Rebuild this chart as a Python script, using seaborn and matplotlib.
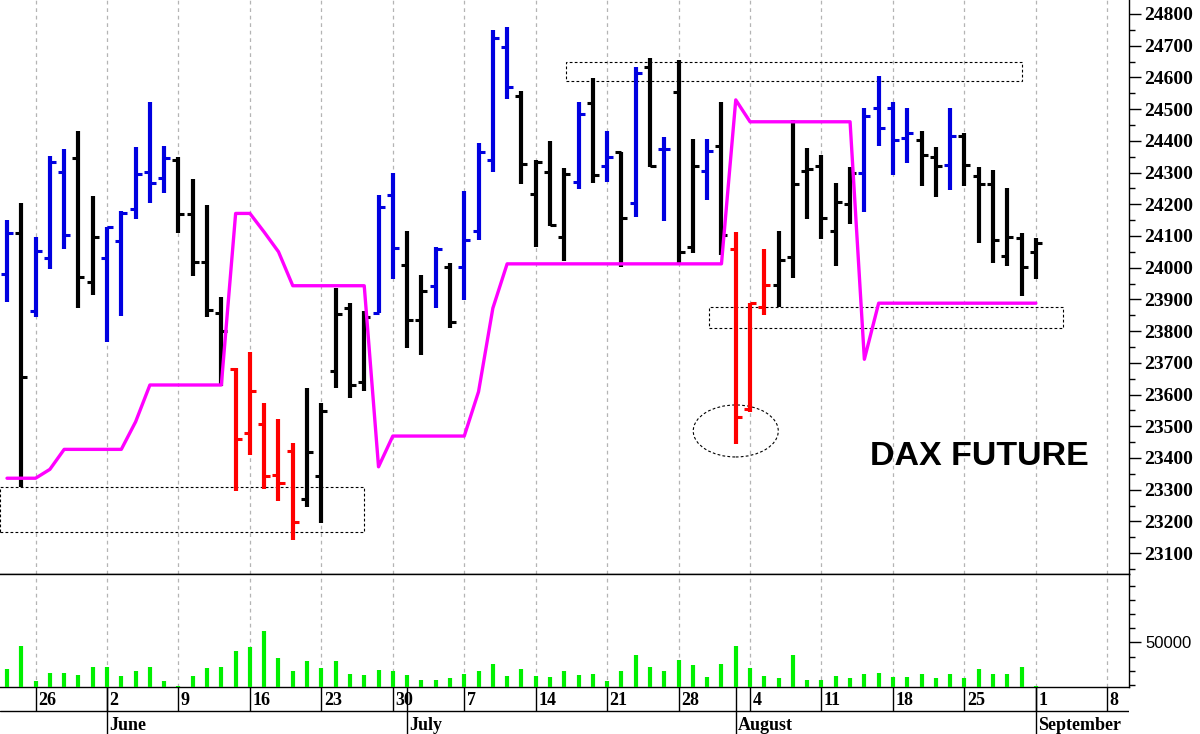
import matplotlib
matplotlib.use('Agg')
import matplotlib.pyplot as plt
from matplotlib.patches import Rectangle, Ellipse
from matplotlib.ticker import MultipleLocator, FixedLocator
import numpy as np
import pandas as pd
import seaborn as sns

# one bar per trading day, first bar is Thursday 22 May 2025
start_day = "2025-05-22"

opens = [23980, 24108, 23864, 24030, 24303, 24345, 23956, 24030, 24085, 24184,
         24303, 24284, 24340, 24169, 24019, 23856, 23680, 23478, 23506, 23346,
         23423, 23270, 23344, 23675, 23874, 23641, 23858, 24229, 24008, 23835,
         23942, 24001, 24001, 24116, 24340, 24695, 24541, 24232, 24303, 24098,
         24269, 24520, 24321, 24366, 24203, 24632, 24373, 24553, 24066, 24306,
         24384, 24059, 23553, 23875, 23945, 24035, 24306, 24322, 24117, 24200,
         24300, 24503, 24503, 24408, 24403, 24348, 24324, 24415, 24289, 24264,
         24037, 24094, 24050]
highs = [24150, 24203, 24096, 24352, 24373, 24432, 24226, 24129, 24180, 24382,
         24523, 24384, 24348, 24279, 24198, 23908, 23683, 23733, 23574, 23522,
         23446, 23619, 23572, 23935, 23888, 23864, 24229, 24298, 24116, 23977,
         24064, 24016, 24243, 24394, 24750, 24758, 24558, 24340, 24400, 24313,
         24523, 24597, 24432, 24366, 24634, 24662, 24413, 24655, 24405, 24405,
         24523, 24112, 23890, 24058, 24117, 24466, 24378, 24355, 24266, 24318,
         24505, 24604, 24523, 24505, 24432, 24380, 24505, 24426, 24318, 24308,
         24252, 24108, 24093]
lows = [23893, 23309, 23845, 23995, 24058, 23872, 23914, 23767, 23848, 24153,
        24203, 24235, 24110, 23974, 23845, 23627, 23297, 23409, 23301, 23264,
        23141, 23246, 23196, 23622, 23588, 23612, 23858, 23963, 23746, 23725,
        23872, 23809, 23898, 24087, 24303, 24531, 24264, 24066, 24132, 24022,
        24247, 24266, 24271, 24001, 24159, 24318, 24148, 24008, 24045, 24213,
        24040, 23444, 23546, 23851, 23875, 23968, 24153, 24090, 24005, 24137,
        24177, 24384, 24292, 24329, 24258, 24222, 24245, 24258, 24079, 24016,
        24005, 23911, 23963]
closes = [24108, 23656, 24054, 24334, 24103, 23970, 24096, 24127, 24173, 24295,
          24266, 24345, 24169, 24019, 23868, 23801, 23459, 23612, 23343, 23320,
          23197, 23418, 23549, 23853, 23630, 23845, 24192, 24063, 23835, 23927,
          24060, 23830, 24087, 24366, 24723, 24569, 24326, 24334, 24135, 24294,
          24484, 24292, 24350, 24158, 24615, 24321, 24375, 24050, 24322, 24369,
          24103, 23530, 23888, 23945, 24024, 24263, 24310, 24158, 24208, 24298,
          24478, 24440, 24403, 24424, 24355, 24321, 24415, 24324, 24264, 24087,
          24098, 24003, 24077]
regime = ["up", "flat", "up", "up", "up", "flat", "flat", "up", "up", "up",
          "up", "up", "flat", "flat", "flat", "flat", "down", "down", "down", "down",
          "down", "flat", "flat", "flat", "flat", "flat", "up", "up", "flat", "flat",
          "up", "flat", "up", "up", "up", "up", "flat", "flat", "flat", "flat",
          "up", "flat", "up", "flat", "up", "flat", "up", "flat", "flat", "up",
          "flat", "down", "down", "down", "flat", "flat", "flat", "flat", "flat", "flat",
          "up", "up", "up", "up", "flat", "flat", "up", "flat", "flat", "flat",
          "flat", "flat", "flat"]
volume = [31100, 47700, 22900, 28700, 28700, 26900, 32500, 32500, 26600, 29900,
          32500, 22900, 19600, 26600, 31800, 32500, 44000, 46800, 58100, 38900,
          29700, 36800, 31800, 36800, 27600, 26900, 30600, 29900, 26900, 23600,
          23600, 24800, 27600, 29900, 34600, 26600, 31100, 26600, 25500, 29700,
          26900, 27600, 22900, 29700, 41000, 32500, 29700, 37900, 33900, 25500,
          34600, 47700, 31800, 26600, 24800, 41000, 23600, 23600, 26600, 24800,
          27600, 28700, 25700, 25700, 27600, 24800, 27600, 24800, 31100, 27600,
          27600, 32500, 19600]
stop_line = [23336, 23336, 23336, 23364, 23427, 23427, 23427, 23427, 23427, 23514,
             23630, 23630, 23630, 23630, 23630, 23630, 24171, 24171, 24112, 24050,
             23943, 23943, 23943, 23943, 23943, 23943, 23372, 23469, 23469, 23469,
             23469, 23469, 23469, 23609, 23872, 24012, 24012, 24012, 24012, 24012,
             24012, 24012, 24012, 24012, 24012, 24012, 24012, 24012, 24012, 24012,
             24012, 24529, 24460, 24460, 24460, 24460, 24460, 24460, 24460, 24460,
             23711, 23888, 23888, 23888, 23888, 23888, 23888, 23888, 23888, 23888,
             23888, 23888, 23888]

# dotted boxes: first bar, last bar, low price, high price
zone_start = [-0.5, 39.1, 49.1]
zone_end = [25.0, 71.0, 73.9]
zone_low = [23167, 24588, 23809]
zone_high = [23309, 24648, 23875]

sns.set_style("white")
plt.rcParams['font.family'] = ['Liberation Serif', 'DejaVu Serif']
plt.rcParams['axes.edgecolor'] = 'black'
plt.rcParams['text.color'] = 'black'
plt.rcParams['ytick.color'] = 'black'

n = len(closes)
idx = np.arange(n)
days = pd.bdate_range(start_day, periods=n + 6)
x_lo, x_hi = -0.49, 78.52

palette = {"up": "#0000e0", "flat": "#000000", "down": "#ff0000"}
colors = [palette[r] for r in regime]

mondays = [i for i, d in enumerate(days) if d.weekday() == 0]
month_starts = [i for i in range(1, len(days)) if days[i].month != days[i - 1].month]

W, H = 1200, 734
fig = plt.figure(figsize=(12, 7.34), dpi=100)
fig.patch.set_facecolor("#fff")
ax = fig.add_axes([0, 160 / H, 1129 / W, 574 / H])
axv = fig.add_axes([0, 47 / H, 1129 / W, 113 / H])
axd = fig.add_axes([0, 0, 1129 / W, 47 / H])

for a in (ax, axv):
    for m in mondays:
        a.axvline(m, color="#b4b4b4", lw=0.9, ls=(0, (3, 3)), zorder=0)
    a.set_xlim(x_lo, x_hi)
    a.set_xticks([])
    a.spines["left"].set_visible(False)
    for s in ("right", "bottom", "top"):
        a.spines[s].set_linewidth(1.0)
        a.spines[s].set_color("black")
ax.spines["top"].set_visible(False)

# price bars
ax.vlines(idx, lows, highs, colors=colors, lw=3.0, zorder=3)
ax.hlines(opens, idx - 0.42, idx, colors=colors, lw=2.2, zorder=3)
ax.hlines(closes, idx, idx + 0.42, colors=colors, lw=2.2, zorder=3)

sns.lineplot(x=idx, y=stop_line, ax=ax, color="#ff00ff", lw=2.4, zorder=4)

for x0, x1, lo, hi in zip(zone_start, zone_end, zone_low, zone_high):
    ax.add_patch(Rectangle((x0, lo), x1 - x0, hi - lo, fill=False,
                           ec="black", lw=0.8, ls=(0, (2.5, 2)), zorder=2))
ax.add_patch(Ellipse((51.0, 23485), 5.95, 164, fill=False,
                     ec="black", lw=0.8, ls=(0, (2.5, 2)), zorder=2))

ax.text(60.4, 23378, "DAX FUTURE", family="Liberation Sans", fontsize=24.5,
        fontweight="bold", ha="left", va="baseline")

ax.set_ylim(23034, 24844)
ax.set_xlim(x_lo, x_hi)
ax.set_xlabel("")
ax.set_ylabel("")
ax.yaxis.tick_right()
ax.set_yticks(np.arange(23100, 24801, 100))
ax.yaxis.set_minor_locator(MultipleLocator(50))
ax.tick_params(axis="y", which="major", right=True, length=8.6, width=1, pad=2.2,
               labelsize=14, direction="out")
ax.tick_params(axis="y", which="minor", right=True, length=4, width=1, direction="out")
for lab in ax.get_yticklabels():
    lab.set_fontweight("bold")

# volume
axv.vlines(idx, 18660, volume, colors="#00f000", lw=3.0, zorder=3)
axv.set_ylim(18660, 98240)
axv.yaxis.tick_right()
axv.set_yticks([50000])
axv.set_yticklabels(["50000"], family="Liberation Sans", fontsize=12)
axv.yaxis.set_minor_locator(FixedLocator(np.arange(20000, 100000, 10000)))
axv.tick_params(axis="y", which="major", right=True, length=8.6, width=1, pad=3, direction="out")
axv.tick_params(axis="y", which="minor", right=True, length=4, width=1, direction="out")

# date rows
axd.set_xlim(x_lo, x_hi)
axd.set_ylim(0, 47)
axd.axis("off")
axd.axhline(23, color="black", lw=1)
for m in mondays:
    if m > x_hi:
        continue
    axd.vlines(m, 23, 47, color="black", lw=1)
    axd.text(m + 0.17, 29, str(days[m].day), fontsize=13, fontweight="bold",
             ha="left", va="baseline")
for s in month_starts:
    if s > x_hi:
        continue
    axd.vlines(s, 0, 47, color="black", lw=1)
    axd.text(s + 0.17, 4, days[s].strftime("%B"), fontsize=13, fontweight="bold",
             ha="left", va="baseline")

fig.savefig("out.png", dpi=100, facecolor="#fff")
